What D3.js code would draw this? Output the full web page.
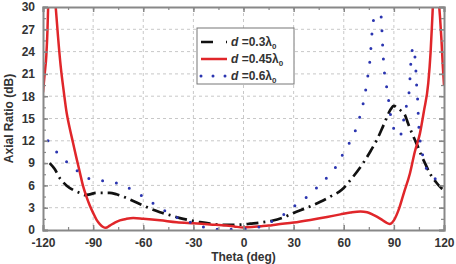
<!DOCTYPE html>
<html>
<head>
	<meta charset="utf-8">
	<script src="https://cdn.jsdelivr.net/npm/d3@7"></script>
</head>
<style type="text/css">
	body { margin:0; background:#fff; }
	text { font-family:"Liberation Sans", Arial, sans-serif; font-weight:bold; fill:#333; }
</style>
<body>
</body>
</html>
<script type="text/javascript">
	// values: [theta (deg), axial ratio (dB)]
	var red45 = [[-120,18.5],[-119,21],[-118,23.5],[-117.3,27],[-116.8,31],[-115.5,35],[-114,35],[-112.4,30],[-111,26],[-109.4,22],[-107.5,18.5],[-105.8,15.7],[-104,13.7],[-102,11.7],[-100,9.7],[-98,7.8],[-96,5.9],[-94,4.5],[-92,3.3],[-90,2.3],[-88,1.4],[-86,0.8],[-84,0.4],[-82.5,0.3],[-80,0.6],[-77,1.0],[-74,1.3],[-70,1.5],[-66,1.6],[-60,1.5],[-50,1.3],[-40,1.05],[-30,0.9],[-20,0.75],[-10,0.6],[-5,0.45],[0,0.35],[5,0.4],[10,0.5],[15,0.6],[20,0.75],[30,1.0],[40,1.35],[50,1.75],[58,2.1],[64,2.35],[70,2.5],[74,2.4],[78,2.0],[82,1.5],[85,1.05],[87.5,0.8],[90,1.3],[93,2.8],[96,5],[99.6,7.6],[102.5,10.5],[105.6,13],[108,16],[110.6,19.8],[112,24],[113,28.5],[114,33],[115.5,35],[116.8,31],[117.6,28.7],[118.5,25.5],[119.3,22],[120,19.5]];
	var black30 = [[-116,9],[-113,8.2],[-110,7],[-106,6],[-102,5.4],[-98,5],[-95,4.7],[-92,4.8],[-88,5],[-84,5],[-80,5],[-76,4.8],[-72,4.5],[-68,4.1],[-64,3.7],[-60,3.3],[-56,2.9],[-50,2.4],[-44,2.0],[-38,1.6],[-32,1.3],[-26,1.05],[-20,0.85],[-12,0.7],[-6,0.7],[0,0.75],[4,0.85],[10,1.0],[17,1.25],[24,1.7],[30,2.3],[38,3],[46,3.8],[52,4.5],[58.8,5.4],[65,7],[71.6,9],[76,10.6],[80,12.2],[84,14.2],[88,16.2],[90,16.7],[92,16.4],[94.5,16],[96.6,15.5],[98.4,14.4],[100.5,13.2],[102.6,12.1],[104.4,11.2],[106.5,10],[108.6,9],[111.6,7.6],[115,6.5],[118.6,5.6],[120,5.4]];
	var blue60 = [[-117,12],[-113,10.8],[-108.8,9.8],[-104,8.8],[-99.8,8],[-96,7.3],[-92,6.9],[-87,6.7],[-83,6.6],[-78,6.4],[-74,6.2],[-70,5.8],[-66,5.3],[-61.5,4.7],[-57,4],[-52,3.3],[-48,2.7],[-42,1.9],[-36,1.4],[-30,0.9],[-25,0.5],[-21.8,0.25],[-14,0.1],[-4,0.1],[4,0.15],[9,0.4],[14,0.8],[18,1.3],[22,1.8],[26,2.4],[29.7,3.1],[34,3.8],[38.8,4.6],[43,5.5],[46.8,6.4],[51,7.3],[54.7,8.3],[59.7,10.3],[64.7,12.3],[68,14],[70.7,16.2],[72.7,18.2],[74,20.2],[75.3,22],[76.1,24],[76.7,26],[77.7,27.9],[78.1,29.9],[79,32],[80.5,32],[82.1,29.5],[82.7,27.6],[83.1,25.6],[84.1,21.8],[85.3,19.8],[86.7,17.7],[88,15.5],[89.6,13.9],[92,12.6],[94.2,12.9],[96,15],[97.6,16.8],[99.2,18.8],[100.2,22.6],[101.6,24.6],[102.6,23.3],[103.2,21.3],[103.6,19.5],[104.2,17.6],[104.6,15.5],[105,13.7],[107.6,9.7],[111.2,7.6],[114,7],[117.6,6.4],[120,5.5]];
	var xTicks = [-120,-90,-60,-30,0,30,60,90,120];
	var yTicks = [0,3,6,9,12,15,18,21,24,27,30];
	var legendLabels = ["0.3", "0.45", "0.6"];

	var width = 456, height = 264;
	var margin = {left:43, right:12, top:7, bottom:34};
	var w = width - margin.left - margin.right;
	var h = height - margin.top - margin.bottom;
	var svg = d3.select("body").append("svg").attr("width", width).attr("height", height);
	var g = svg.append("g").attr("transform", "translate("+ margin.left +","+ margin.top +")");

	var x = d3.scaleLinear().domain([-120,120]).range([0,w]);
	var y = d3.scaleLinear().domain([0,30]).range([h,0]);

	g.append("rect").attr("width", w).attr("height", h).attr("fill", "#fff");

	// dashed grid
	g.selectAll(".gx").data(xTicks.slice(1,-1)).enter().append("line")
		.attr("x1", function(d){return x(d)}).attr("x2", function(d){return x(d)})
		.attr("y1", 0).attr("y2", h)
		.attr("stroke", "#c8c8c8").attr("stroke-dasharray", "3,3");
	g.selectAll(".gy").data(yTicks.slice(1,-1)).enter().append("line")
		.attr("y1", function(d){return y(d)}).attr("y2", function(d){return y(d)})
		.attr("x1", 0).attr("x2", w)
		.attr("stroke", "#c8c8c8").attr("stroke-dasharray", "3,3");

	g.append("clipPath").attr("id", "clip").append("rect").attr("width", w).attr("height", h);
	var line = d3.line().x(function(d){return x(d[0])}).y(function(d){return y(d[1])}).curve(d3.curveMonotoneX);
	var plot = g.append("g").attr("clip-path", "url(#clip)");

	var styles = [
		{data:black30, color:"#111", width:2.7, dash:"12,5,2,5", cap:"butt"},
		{data:red45, color:"#e0262a", width:2.5, dash:null, cap:"butt"},
		{data:blue60, color:"#2b35b0", width:3, dash:"0,14", cap:"round"}
	];
	plot.selectAll(".curve").data(styles).enter().append("path")
		.attr("d", function(d){return line(d.data)})
		.attr("fill", "none")
		.attr("stroke", function(d){return d.color})
		.attr("stroke-width", function(d){return d.width})
		.attr("stroke-dasharray", function(d){return d.dash})
		.attr("stroke-linecap", function(d){return d.cap});

	// axes with inward ticks on all four sides
	var minorX = d3.range(-120, 121, 15), minorY = d3.range(0, 30.1, 1.5);
	function frame(axis, scale, ticks, minor, tr, labels) {
		var a = g.append("g").attr("transform", tr)
			.call(axis(scale).tickValues(ticks).tickSize(-5).tickPadding(8)
				.tickFormat(function(d){return labels ? String(d) : ""}));
		a.select(".domain").attr("stroke", "#888").attr("stroke-width", 2);
		a.selectAll(".tick line").attr("stroke", "#888").attr("stroke-width", 1.5);
		a.selectAll("text").style("font-size", "12px").attr("fill", "#333");
		var m = g.append("g").attr("transform", tr)
			.call(axis(scale).tickValues(minor).tickSize(-3).tickFormat(""));
		m.select(".domain").remove();
		m.selectAll(".tick line").attr("stroke", "#888").attr("stroke-width", 1.2);
		return a;
	}
	frame(d3.axisBottom, x, xTicks, minorX, "translate(0,"+ h +")", true);
	frame(d3.axisTop, x, xTicks, minorX, "translate(0,0)", false);
	frame(d3.axisLeft, y, yTicks, minorY, "translate(0,0)", true);
	frame(d3.axisRight, y, yTicks, minorY, "translate("+ w +",0)", false);

	svg.append("text").attr("x", margin.left + x(0)).attr("y", 261)
		.attr("text-anchor", "middle").style("font-size", "12px").text("Theta (deg)");
	svg.append("text").attr("transform", "translate(13,"+ (margin.top + h/2) +") rotate(-90)")
		.attr("text-anchor", "middle").style("font-size", "12px").text("Axial Ratio (dB)");

	// legend
	var lg = svg.append("g").attr("transform", "translate(197,28)");
	lg.append("rect").attr("width", 97).attr("height", 56).attr("fill", "#fff")
		.attr("stroke", "#777").attr("stroke-width", 1);
	var rows = lg.selectAll(".row").data(styles).enter().append("g")
		.attr("transform", function(d,i){return "translate(0,"+ (14 + i*17) +")"});
	rows.append("line").attr("x1", 4).attr("x2", 30).attr("y1", 0).attr("y2", 0)
		.attr("stroke", function(d){return d.color})
		.attr("stroke-width", function(d){return d.width})
		.attr("stroke-dasharray", function(d,i){return i==0 ? "12,13,2,6" : (i==2 ? "0,12" : null)})
		.attr("stroke-linecap", function(d){return d.cap});
	var t = rows.append("text").attr("x", 34).attr("y", 4).style("font-size", "12px").attr("fill", "#222");
	t.append("tspan").style("font-style", "italic").text("d");
	t.append("tspan").text(function(d,i){return " =" + legendLabels[i] + "λ"});
	t.append("tspan").attr("dy", 3).style("font-size", "8px").text("0");
</script>
